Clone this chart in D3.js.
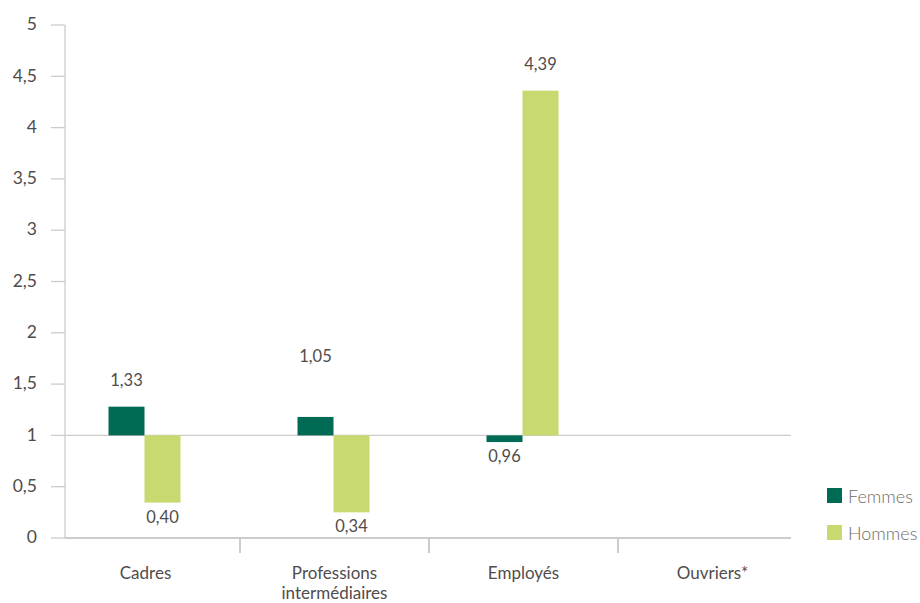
<!DOCTYPE html>
<html><head><meta charset="utf-8">
<script src="https://cdn.jsdelivr.net/npm/d3@7"></script>
<style>body{margin:0;background:#fff}svg{display:block}</style></head>
<body><svg id="c" width="920" height="603"></svg>
<script>
// ---- data ----
const categories = ["Cadres", "Professions\nintermédiaires", "Employés", "Ouvriers*"];
const series = ["Femmes", "Hommes"];
const femmes = [1.28, 1.18, 0.935, null];
const hommes = [0.345, 0.25, 4.36, null];
const femmesLabels = ["1,33", "1,05", "0,96", ""];
const hommesLabels = ["0,40", "0,34", "4,39", ""];
const yTicks = [0, 0.5, 1, 1.5, 2, 2.5, 3, 3.5, 4, 4.5, 5];
const baseline = 1;

// ---- layout ----
const colors = {Femmes: "#006b54", Hommes: "#c8d96f"};
const gridColor = "#cfcbcb";
const textColor = "#514c4c";
const font = "Lato, 'Open Sans', sans-serif";
const svg = d3.select("#c");
const y = d3.scaleLinear().domain([0, 5]).range([538, 25]);
const x = d3.scaleBand().domain(categories).range([51, 807]);
const barW = 36;
const axisX = 65, axisRight = 791;
const labelExtra = {"Professions\nintermédiaires": {Femmes: -34}};

// y axis line & ticks
svg.append("line").attr("x1", axisX).attr("x2", axisX).attr("y1", y(5)).attr("y2", y(0))
  .attr("stroke", gridColor).attr("stroke-width", 1.3);
const yt = svg.append("g").selectAll("g").data(yTicks).join("g")
  .attr("transform", d => `translate(0,${y(d)})`);
yt.append("line").attr("x1", 51).attr("x2", axisX).attr("stroke", gridColor).attr("stroke-width", 1.3);
yt.append("text").attr("x", 37).attr("dy", "0.3em").attr("text-anchor", "end")
  .attr("font-family", font).attr("font-size", 17.5).attr("fill", textColor)
  .text(d => String(d).replace(".", ","));

// baseline line at 1
svg.append("line").attr("x1", axisX).attr("x2", axisRight).attr("y1", y(baseline)).attr("y2", y(baseline))
  .attr("stroke", gridColor).attr("stroke-width", 1.3);

// bars
const rows = categories.map((c, i) => ({c, Femmes: femmes[i], Hommes: hommes[i], lF: femmesLabels[i], lH: hommesLabels[i]}));
series.forEach((s, si) => {
  const g = svg.append("g");
  rows.filter(r => r[s] != null).forEach(r => {
    const cx = x(r.c) + x.bandwidth() / 2 - 1;
    const bx = cx - barW + si * barW;
    const v = r[s];
    const top = y(Math.max(v, baseline)), bot = y(Math.min(v, baseline));
    g.append("rect").attr("x", bx).attr("y", top).attr("width", barW).attr("height", bot - top)
      .attr("fill", colors[s]);
    const lab = s === "Femmes" ? r.lF : r.lH;
    const extra = (labelExtra[r.c] && labelExtra[r.c][s]) || 0;
    const ly = v >= baseline ? top - 21 + extra : bot + 20;
    g.append("text").attr("x", bx + barW / 2).attr("y", ly).attr("text-anchor", "middle")
      .attr("font-family", font).attr("font-size", 16.5).attr("fill", textColor).text(lab);
  });
});

// x axis
svg.append("line").attr("x1", axisX).attr("x2", axisRight).attr("y1", y(0)).attr("y2", y(0))
  .attr("stroke", gridColor).attr("stroke-width", 2);
categories.slice(1).forEach(c => {
  svg.append("line").attr("x1", x(c)).attr("x2", x(c)).attr("y1", y(0)).attr("y2", y(0) + 15)
    .attr("stroke", gridColor).attr("stroke-width", 2);
});
categories.forEach(c => {
  const lines = c.split("\n");
  lines.forEach((line, i) => {
    svg.append("text").attr("x", x(c) + x.bandwidth() / 2).attr("y", 579 + i * 19.5)
      .attr("text-anchor", "middle").attr("font-family", font).attr("font-size", 17)
      .attr("fill", textColor).text(line);
  });
});

// legend
series.forEach((s, i) => {
  const ly = 488 + i * 37;
  svg.append("rect").attr("x", 827).attr("y", ly).attr("width", 15).attr("height", 15).attr("fill", colors[s]);
  svg.append("text").attr("x", 848).attr("y", ly + 14.5).attr("font-family", font).attr("font-weight", 300)
    .attr("font-size", 18).attr("fill", "#6e6a6a").text(s);
});
</script>
</body></html>
